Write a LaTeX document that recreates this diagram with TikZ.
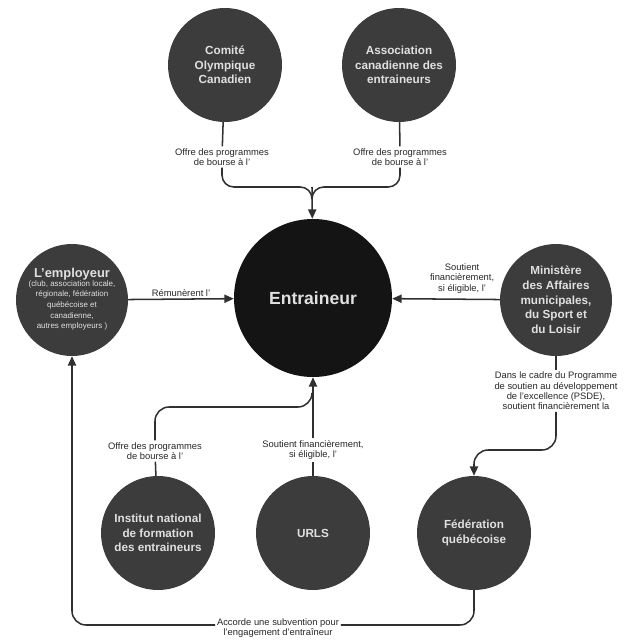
\documentclass[tikz,border=0pt]{standalone}
\usepackage{fontspec}
\setmainfont{Liberation Sans}
\usetikzlibrary{arrows.meta}
\definecolor{orggray}{HTML}{3C3C3C}
\definecolor{entblack}{HTML}{141414}
\definecolor{linegray}{HTML}{303030}
\newcommand{\empsmall}[1]{{\mdseries\fontsize{6.8}{9}\selectfont\begin{tabular}{@{}c@{}}#1\end{tabular}}}

\begin{document}
\begin{tikzpicture}[x=0.03cm, y=-0.03cm,
		org/.style={circle, fill=orggray, text=white!88!black, align=center, inner sep=0pt,
			minimum size=3.42cm, font=\bfseries\fontsize{10}{12.5}\selectfont},
		lbl/.style={align=center, inner sep=1.5pt, text=black!85, font=\fontsize{8}{8.8}\selectfont},
		line/.style={draw=linegray, line width=1.3pt},
		arr/.style={line, -{Triangle[length=8pt, width=7pt]}}]
		\useasboundingbox (0,0) rectangle (634,640);

		\node[org, fill=entblack, minimum size=4.74cm, font=\bfseries\fontsize{15}{17}\selectfont] (ent) at (313,298) {Entraineur};
		\node[org] (coc) at (225,65) {Comité\\Olympique\\Canadien};
		\node[org] (ace) at (399,65) {Association\\canadienne des\\entraineurs};
		\node[org, minimum size=3.36cm] (emp) at (72,300) {\fontsize{11}{13}\selectfont L'employeur\\[-2pt]
			\empsmall{(club, association locale,\\régionale, fédération\\québécoise et\\canadienne,\\autres employeurs )}};
		\node[org, minimum size=3.36cm] (min) at (556,300) {Ministère\\des Affaires\\municipales,\\du Sport et\\du Loisir};
		\node[org] (inf) at (158,533) {Institut national\\de formation\\des entraineurs};
		\node[org] (urls) at (313,533) {URLS};
		\node[org] (fed) at (474,533) {Fédération\\québécoise};

		\node[lbl] (offcoc) at (222,157) {Offre des programmes\\de bourse à l'};
		\node[lbl] (offace) at (400,157) {Offre des programmes\\de bourse à l'};
		\node[lbl] (offinf) at (155,451) {Offre des programmes\\de bourse à l'};
		\node[lbl] (offurls) at (313,450) {Soutient financièrement,\\si éligible, l'};
		\node[lbl] (psde) at (556,391) {Dans le cadre du Programme\\de soutien au développement\\de l'excellence (PSDE),\\soutient financièrement la};
		\node[lbl] (subv) at (278,628) {Accorde une subvention pour\\l'engagement d'entraîneur};

		\coordinate (jtop) at (312,187);
		\coordinate (jbot) at (312,407);

		\draw[line] (coc) -- (offcoc);
		\draw[line] (ace) -- (offace);
		\draw[line, rounded corners=10] (offcoc.south) |- (jtop) -- ++(0,12);
		\draw[line, rounded corners=10] (offace.south) |- (jtop) -- ++(0,12);
		\draw[arr] (jtop) -- (ent);

		\draw[arr] (emp) -- (ent) node[lbl, midway, above] {Rémunèrent l'};
		\draw[arr] (min) -- (ent) node[lbl, pos=0.35, above=3pt] {Soutient\\financièrement,\\si éligible, l'};

		\draw[line] (min) -- (psde);
		\draw[arr, rounded corners=12] (psde.south) |- (fed.north |- 0,450) -- (fed);

		\draw[line] (inf) -- (offinf);
		\draw[line] (urls) -- (offurls);
		\draw[line, rounded corners=12] (offinf.north) |- (jbot) -- ++(0,-12);
		\draw[arr] (offurls) -- (ent);

		\draw[line, rounded corners=12] (fed) |- (subv.east |- 0,625);
		\draw[arr, rounded corners=12] (subv.west |- 0,625) -| (emp);
	\end{tikzpicture}
\end{document}
